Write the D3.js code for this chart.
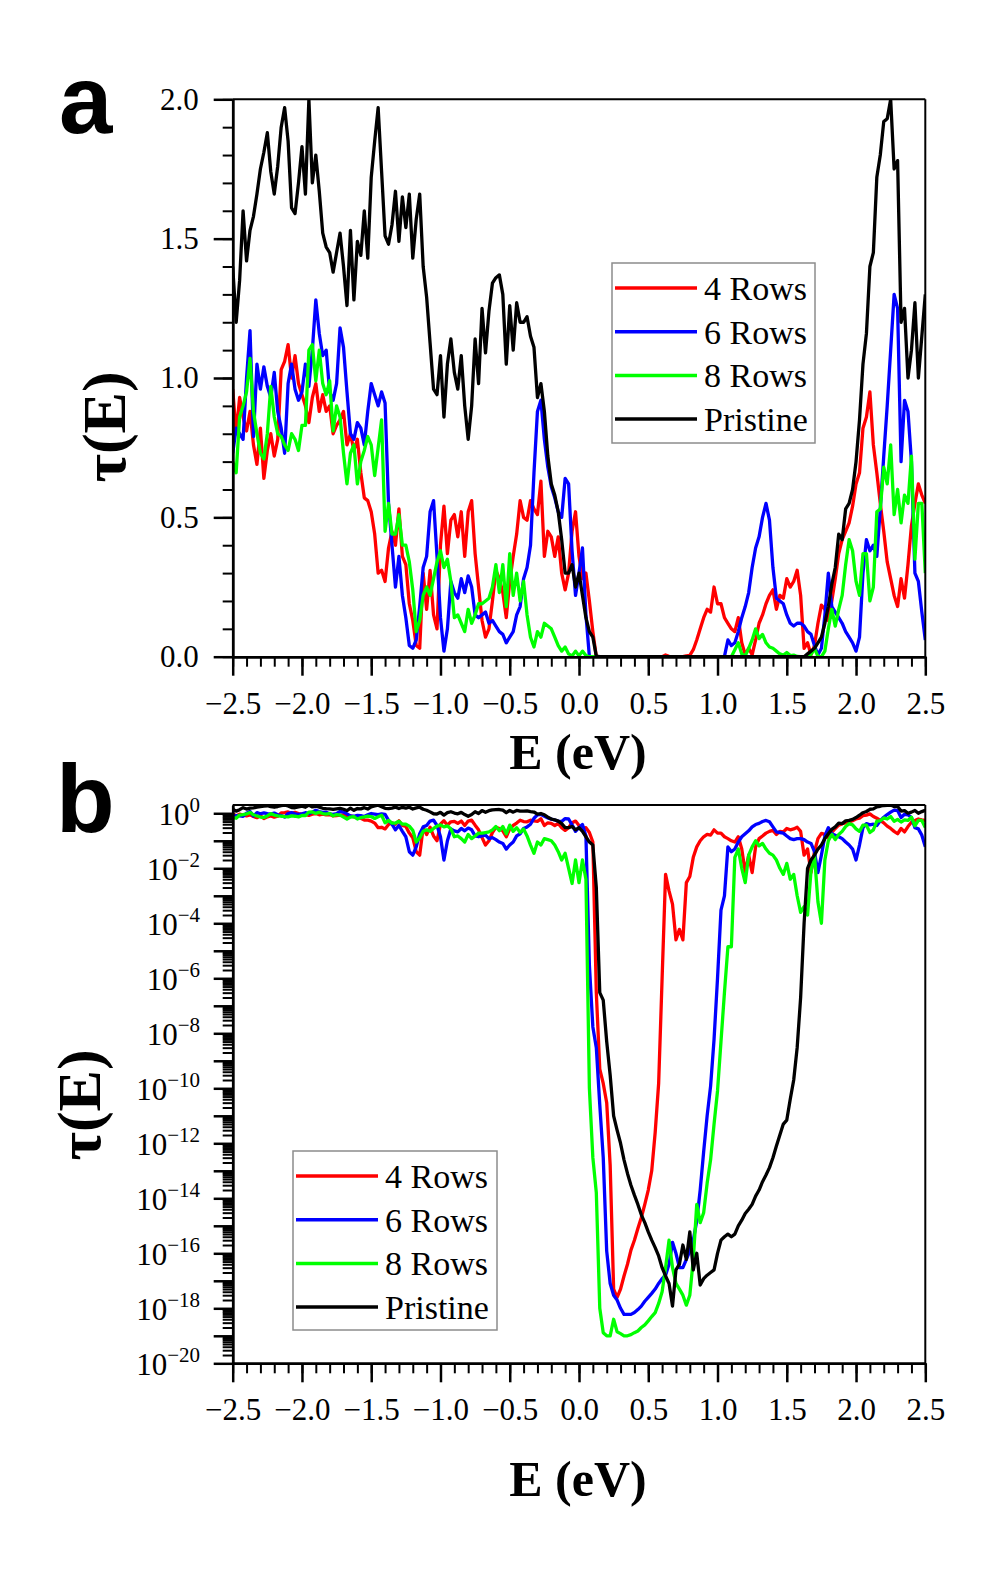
<!DOCTYPE html>
<html>
<head>
<meta charset="utf-8">
<script src="https://cdn.jsdelivr.net/npm/d3@7"></script>
<style>
  html, body { margin: 0; padding: 0; background: #fff; }
  svg { display: block; }
</style>
</head>
<body>
<svg id="chart" width="997" height="1576"></svg>
<script>
// energy grid, -2.5 .. 2.5 eV in 0.025 eV steps (201 points)
const energy = d3.range(201).map(i => +(-2.5 + i * 0.025).toFixed(3));

const rows4 = [
  0.96, 0.80, 0.93, 0.86, 0.81, 0.88, 0.76, 0.69, 0.82, 0.64,
  0.74, 0.80, 0.72, 0.78, 1.03, 1.06, 1.12, 1.00, 1.08, 0.98,
  0.94, 0.90, 0.84, 0.93, 0.98, 0.88, 0.94, 0.88, 0.90, 0.80,
  0.83, 0.85, 0.88, 0.76, 0.80, 0.74, 0.78, 0.66, 0.57, 0.56,
  0.52, 0.44, 0.30, 0.31, 0.27, 0.39, 0.45, 0.40, 0.53, 0.36,
  0.33, 0.19, 0.13, 0.04, 0.03, 0.30, 0.17, 0.31, 0.15, 0.10,
  0.40, 0.54, 0.37, 0.49, 0.51, 0.43, 0.52, 0.36, 0.52, 0.56,
  0.37, 0.25, 0.13, 0.07, 0.10, 0.20, 0.31, 0.28, 0.23, 0.14,
  0.27, 0.36, 0.44, 0.56, 0.50, 0.49, 0.56, 0.53, 0.51, 0.63,
  0.36, 0.45, 0.43, 0.36, 0.43, 0.30, 0.24, 0.30, 0.45, 0.52,
  0.36, 0.28, 0.30, 0.20, 0.09, 3e-7, 5e-10, 1.5e-10, 3e-11, 1.6e-13,
  5e-18, 2.5e-18, 5e-18, 1.5e-17, 4e-17, 1.3e-16, 3e-16, 8e-16, 2e-15, 6e-15,
  2e-14, 1e-13, 2.5e-12, 1.5e-10, 1e-6, 6e-3, 1.5e-3, 5e-4, 2.5e-5, 6e-5,
  2.5e-5, 3e-3, 5e-3, 0.025, 0.06, 0.10, 0.14, 0.17, 0.16, 0.25,
  0.19, 0.19, 0.14, 0.12, 0.10, 0.09, 0.14, 0.05, 0.007, 0.03,
  0.007, 0.06, 0.12, 0.15, 0.19, 0.22, 0.24, 0.17, 0.22, 0.21,
  0.28, 0.25, 0.27, 0.31, 0.22, 0.03, 0.05, 0.007, 0.04, 0.12,
  0.185, 0.17, 0.13, 0.20, 0.28, 0.37, 0.42, 0.45, 0.48, 0.54,
  0.62, 0.66, 0.82, 0.86, 0.95, 0.76, 0.66, 0.55, 0.45, 0.34,
  0.28, 0.22, 0.18, 0.28, 0.21, 0.33, 0.47, 0.55, 0.62, 0.58,
  0.55
];

const rows6 = [
  0.73, 0.82, 0.80, 0.78, 1.00, 1.17, 0.79, 1.05, 0.96, 1.04,
  0.97, 0.93, 1.02, 0.88, 0.82, 0.73, 0.98, 1.05, 0.96, 0.92,
  0.95, 1.05, 0.97, 1.10, 1.28, 1.16, 1.08, 1.10, 0.95, 0.92,
  0.98, 1.18, 1.11, 0.95, 0.80, 0.78, 0.84, 0.82, 0.76, 0.88,
  0.98, 0.94, 0.90, 0.95, 0.91, 0.55, 0.40, 0.25, 0.36, 0.22,
  0.14, 0.04, 0.03, 0.06, 0.18, 0.32, 0.36, 0.52, 0.56, 0.36,
  0.14, 0.02, 0.10, 0.27, 0.23, 0.21, 0.28, 0.23, 0.29, 0.25,
  0.15, 0.14, 0.15, 0.16, 0.12, 0.13, 0.11, 0.09, 0.08, 0.05,
  0.07, 0.09, 0.15, 0.18, 0.28, 0.32, 0.40, 0.66, 0.88, 0.92,
  0.78, 0.68, 0.61, 0.57, 0.52, 0.50, 0.64, 0.62, 0.38, 0.22,
  0.30, 0.39, 0.15, 3e-6, 1.7e-8, 3e-9, 2.5e-11, 3e-13, 1.2e-16, 8e-18,
  3e-18, 2e-18, 1e-18, 6e-19, 6e-19, 6e-19, 7e-19, 9e-19, 1.2e-18, 1.8e-18,
  2.5e-18, 3.5e-18, 5e-18, 8e-18, 1.2e-17, 1.6e-17, 4e-17, 2.5e-16, 1e-16, 3e-17,
  3e-17, 6e-17, 1.2e-16, 3e-16, 1.5e-15, 2e-14, 5e-13, 1e-11, 1.2e-10, 6e-9,
  1e-6, 3e-4, 1e-3, 0.06, 0.04, 0.05, 0.09, 0.14, 0.18, 0.23,
  0.32, 0.39, 0.43, 0.50, 0.55, 0.49, 0.32, 0.21, 0.20, 0.19,
  0.15, 0.12, 0.11, 0.12, 0.12, 0.11, 0.09, 0.08, 0.04, 0.007,
  0.03, 0.15, 0.30, 0.18, 0.16, 0.14, 0.12, 0.09, 0.07, 0.05,
  0.02, 0.07, 0.30, 0.42, 0.38, 0.40, 0.36, 0.53, 0.72, 0.90,
  1.10, 1.30, 1.25, 0.70, 0.92, 0.88, 0.70, 0.30, 0.27, 0.16,
  0.06
];

const rows8 = [
  0.70, 0.66, 0.86, 0.90, 0.95, 1.07, 0.88, 0.80, 0.73, 0.71,
  0.80, 0.97, 0.86, 0.80, 0.79, 0.76, 0.74, 0.80, 0.78, 0.74,
  0.83, 0.83, 1.10, 1.12, 0.99, 1.10, 0.98, 0.94, 0.99, 0.81,
  0.90, 0.86, 0.73, 0.62, 0.73, 0.76, 0.62, 0.70, 0.74, 0.79,
  0.76, 0.65, 0.75, 0.85, 0.45, 0.55, 0.44, 0.44, 0.51, 0.40,
  0.40, 0.34, 0.24, 0.09, 0.13, 0.22, 0.25, 0.22, 0.28, 0.34,
  0.38, 0.32, 0.35, 0.27, 0.14, 0.15, 0.12, 0.09, 0.17, 0.12,
  0.15, 0.19, 0.19, 0.20, 0.21, 0.25, 0.33, 0.23, 0.33, 0.18,
  0.37, 0.22, 0.30, 0.20, 0.27, 0.15, 0.07, 0.035, 0.09, 0.07,
  0.12, 0.11, 0.10, 0.07, 0.04, 0.02, 0.035, 0.01, 0.0028, 0.02,
  0.003, 0.02, 0.004, 1e-10, 3e-13, 1.6e-14, 1e-18, 1.3e-19, 1e-19, 1e-19,
  4e-19, 1.4e-19, 1.2e-19, 1e-19, 1e-19, 1.1e-19, 1.3e-19, 1.5e-19, 2e-19, 2.5e-19,
  3.5e-19, 5e-19, 7e-19, 1.5e-18, 4e-18, 3e-17, 3e-16, 3e-17, 8e-18, 5e-18,
  3e-18, 1.3e-18, 3e-18, 6e-17, 6e-15, 1.3e-15, 3e-15, 3.5e-14, 2.5e-13, 5e-12,
  8e-11, 5e-9, 3e-7, 1.4e-5, 1.4e-5, 0.025, 0.05, 0.01, 0.003, 0.03,
  0.06, 0.10, 0.065, 0.08, 0.05, 0.035, 0.03, 0.02, 0.01, 0.006,
  0.015, 0.004, 0.006, 0.001, 2.5e-4, 4e-4, 2e-4, 0.008, 0.03, 6e-4,
  1e-4, 0.02, 0.10, 0.17, 0.11, 0.17, 0.22, 0.33, 0.42, 0.38,
  0.27, 0.22, 0.37, 0.37, 0.20, 0.25, 0.52, 0.53, 0.68, 0.62,
  0.76, 0.51, 0.60, 0.48, 0.58, 0.55, 0.72, 0.35, 0.55, 0.55,
  0.30
];

const pristine = [
  1.40, 1.20, 1.35, 1.60, 1.42, 1.53, 1.58, 1.66, 1.75, 1.81,
  1.88, 1.74, 1.66, 1.76, 1.90, 1.97, 1.85, 1.61, 1.59, 1.70,
  1.83, 1.66, 2.00, 1.70, 1.80, 1.67, 1.52, 1.47, 1.45, 1.38,
  1.45, 1.52, 1.40, 1.26, 1.53, 1.28, 1.49, 1.44, 1.60, 1.43,
  1.72, 1.85, 1.97, 1.74, 1.51, 1.48, 1.55, 1.67, 1.49, 1.65,
  1.54, 1.66, 1.43, 1.57, 1.66, 1.40, 1.29, 1.125, 0.96, 0.94,
  1.08, 0.86, 1.05, 1.14, 1.02, 0.96, 1.08, 0.90, 0.78, 0.90,
  1.14, 0.98, 1.25, 1.09, 1.24, 1.34, 1.36, 1.37, 1.30, 1.05,
  1.26, 1.10, 1.27, 1.20, 1.20, 1.22, 1.15, 1.11, 0.93, 0.98,
  0.88, 0.72, 0.62, 0.58, 0.52, 0.42, 0.30, 0.30, 0.33, 0.25,
  0.30, 0.22, 0.14, 0.09, 0.07, 2e-3, 3e-7, 1.6e-7, 5e-9, 3e-10,
  1e-11, 3e-12, 1e-12, 2.5e-13, 8e-14, 3e-14, 1.3e-14, 6e-15, 2.5e-15, 1.3e-15,
  6e-16, 3e-16, 1.6e-16, 8e-17, 3e-17, 1.5e-17, 8e-18, 1.2e-18, 2.5e-17, 4e-17,
  2e-16, 6e-17, 6e-16, 2.5e-17, 1e-16, 7e-18, 1.2e-17, 1.6e-17, 2e-17, 2.5e-17,
  1e-16, 3e-16, 4e-16, 5e-16, 4e-16, 5e-16, 1e-15, 1.6e-15, 2.8e-15, 4e-15,
  6e-15, 1.2e-14, 2e-14, 4e-14, 7e-14, 1.3e-13, 3e-13, 8e-13, 2e-12, 5e-12,
  7e-12, 4e-11, 2e-10, 3e-9, 2e-7, 1e-4, 0.01, 0.02, 0.03, 0.05,
  0.07, 0.12, 0.18, 0.26, 0.32, 0.44, 0.42, 0.53, 0.55, 0.60,
  0.70, 0.85, 1.05, 1.16, 1.40, 1.45, 1.72, 1.80, 1.92, 1.93,
  2.00, 1.75, 1.78, 1.20, 1.25, 1.00, 1.10, 1.27, 1.00, 1.15,
  1.30
];

const seriesNames = ["4 Rows", "6 Rows", "8 Rows", "Pristine"];
const seriesColors = ["#ff0000", "#0000ff", "#00ff00", "#000000"];
const seriesValues = [rows4, rows6, rows8, pristine];

const xTicks = [-2.5, -2.0, -1.5, -1.0, -0.5, 0.0, 0.5, 1.0, 1.5, 2.0, 2.5];
const linTicks = [0.0, 0.5, 1.0, 1.5, 2.0];
const logLabelExps = [0, -2, -4, -6, -8, -10, -12, -14, -16, -18, -20];

const SERIF = '"Liberation Serif", "Times New Roman", serif';
const SANS = '"Liberation Sans", Arial, sans-serif';

const plotLeft = 232.7, plotRight = 925.3;
const svg = d3.select("#chart");

const x = d3.scaleLinear().domain([-2.5, 2.5]).range([plotLeft, plotRight]);
const xMinor = d3.range(-25, 26).map(d => d / 10);

function styleAxis(g, fontSize) {
    g.attr("font-family", SERIF).attr("font-size", fontSize);
    g.select(".domain").attr("stroke", "#000").attr("stroke-width", 2.5);
    g.selectAll(".tick line").attr("stroke", "#000").attr("stroke-width", 2.5);
    g.selectAll(".tick text").attr("fill", "#000");
}

function drawPanel({ y, top, bottom, yMajor, yMinor, linear, legendBox, letter, letterY, yTitleX, yTitleY, xTitleY, clipId }) {
    const g = svg.append("g");

    svg.append("defs").append("clipPath").attr("id", clipId)
        .append("rect")
        .attr("x", plotLeft).attr("y", top)
        .attr("width", plotRight - plotLeft).attr("height", bottom - top);

    // data lines
    const line = d3.line().x(d => x(d[0])).y(d => y(d[1]));
    seriesValues.forEach((vals, k) => {
        g.append("path")
            .datum(energy.map((e, i) => [e, vals[i]]))
            .attr("clip-path", `url(#${clipId})`)
            .attr("fill", "none")
            .attr("stroke", seriesColors[k])
            .attr("stroke-width", 3.3)
            .attr("stroke-linejoin", "round")
            .attr("d", line);
    });

    // frame top/right
    g.append("line").attr("x1", plotLeft).attr("x2", plotRight).attr("y1", top).attr("y2", top)
        .attr("stroke", "#000").attr("stroke-width", 2);
    g.append("line").attr("x1", plotRight).attr("x2", plotRight).attr("y1", top).attr("y2", bottom)
        .attr("stroke", "#000").attr("stroke-width", 2);

    // x axis
    const xm = g.append("g").attr("transform", `translate(0,${bottom})`)
        .call(d3.axisBottom(x).tickValues(xMinor).tickSize(10).tickSizeOuter(0).tickFormat(""));
    styleAxis(xm, 31);
    xm.selectAll(".tick line").attr("stroke-width", 2);
    const xa = g.append("g").attr("transform", `translate(0,${bottom})`)
        .call(d3.axisBottom(x).tickValues(xTicks).tickSize(19).tickPadding(16).tickSizeOuter(0)
            .tickFormat(d3.format(".1f")));
    styleAxis(xa, 31);

    // y axis
    const ym = g.append("g").attr("transform", `translate(${plotLeft},0)`)
        .call(d3.axisLeft(y).tickValues(yMinor).tickSize(10).tickSizeOuter(0).tickFormat(""));
    styleAxis(ym, 31);
    ym.selectAll(".tick line").attr("stroke-width", 2);
    const ya = g.append("g").attr("transform", `translate(${plotLeft},0)`)
        .call(d3.axisLeft(y).tickValues(yMajor).tickSize(19).tickPadding(15).tickSizeOuter(0)
            .tickFormat(linear ? d3.format(".1f") : ""));
    styleAxis(ya, 31);

    if (!linear) {
        logLabelExps.forEach(p => {
            const t = g.append("text")
                .attr("x", 200)
                .attr("y", y(Math.pow(10, p)) + 12)
                .attr("text-anchor", "end")
                .attr("font-family", SERIF)
                .attr("fill", "#000");
            t.append("tspan").attr("font-size", 31).text("10");
            t.append("tspan").attr("font-size", 21).attr("dy", -13)
                .text(p === 0 ? "0" : "\u2212" + (-p));
        });
    }

    // titles
    g.append("text")
        .attr("x", (plotLeft + plotRight) / 2 - 1)
        .attr("y", xTitleY)
        .attr("text-anchor", "middle")
        .attr("font-family", SERIF).attr("font-weight", "bold").attr("font-size", 50)
        .text("E (eV)");
    g.append("text")
        .attr("transform", `translate(${yTitleX},${yTitleY}) rotate(-90)`)
        .attr("text-anchor", "middle")
        .attr("font-family", SERIF).attr("font-weight", "bold").attr("font-size", 62)
        .text("\u03c4(E)");
    g.append("text")
        .attr("x", letter === "a" ? 59 : 56)
        .attr("y", letterY)
        .attr("font-family", SANS).attr("font-weight", "bold").attr("font-size", 96)
        .text(letter);

    // legend
    const lg = g.append("g");
    lg.append("rect")
        .attr("x", legendBox.x).attr("y", legendBox.y)
        .attr("width", legendBox.w).attr("height", legendBox.h)
        .attr("fill", "#fff").attr("stroke", "#8c8c8c").attr("stroke-width", 1.5);
    seriesNames.forEach((name, k) => {
        const ry = legendBox.y + 25 + k * 43.7;
        lg.append("line")
            .attr("x1", legendBox.x + 3).attr("x2", legendBox.x + 85)
            .attr("y1", ry).attr("y2", ry)
            .attr("stroke", seriesColors[k]).attr("stroke-width", 3.5);
        lg.append("text")
            .attr("x", legendBox.x + 92).attr("y", ry + 12)
            .attr("font-family", SERIF).attr("font-size", 34)
            .text(name);
    });
}

// panel a: linear
const yLin = d3.scaleLinear().domain([0, 2]).range([656.7, 99.3]);
drawPanel({
    y: yLin, top: 99.3, bottom: 656.7,
    yMajor: linTicks,
    yMinor: d3.range(0, 21).map(d => d / 10),
    linear: true,
    legendBox: { x: 612, y: 263, w: 203, h: 180 },
    letter: "a", letterY: 133,
    yTitleX: 125, yTitleY: 427, xTitleY: 769,
    clipId: "clipA"
});

// panel b: log
const yLog = d3.scaleLog().domain([1e-20, 2]).range([1363.3, 805]);
const decades = d3.range(-20, 1).map(p => Math.pow(10, p));
const logMinor = [];
d3.range(-20, 0).forEach(p => {
    [2, 3, 4, 5, 6, 7, 8, 9].forEach(k => logMinor.push(k * Math.pow(10, p)));
});
drawPanel({
    y: yLog, top: 805, bottom: 1363.3,
    yMajor: decades,
    yMinor: logMinor,
    linear: false,
    legendBox: { x: 293, y: 1151, w: 204, h: 179 },
    letter: "b", letterY: 832,
    yTitleX: 100, yTitleY: 1105, xTitleY: 1496,
    clipId: "clipB"
});
</script>
</body>
</html>
